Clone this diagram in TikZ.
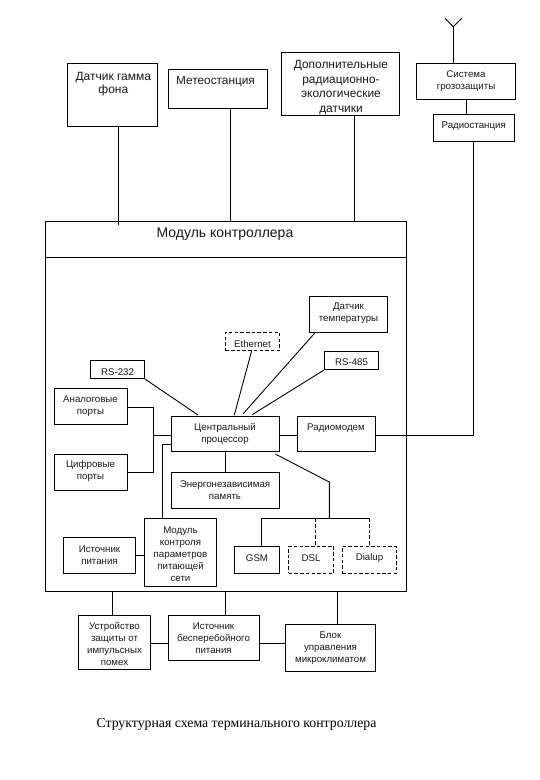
\documentclass[tikz,border=0pt]{standalone}
\usepackage{fontspec}
\setmainfont{Liberation Sans}
\newfontfamily\capfont{Liberation Serif}
\tikzset{
  box/.style={draw=black,line width=0.9pt,fill=white,inner sep=0pt},
  dbox/.style={box,dash pattern=on 3.5pt off 2.2pt},
  txt/.style={align=center,inner sep=0pt,text=black!90,yshift=-0.9pt},
  wire/.style={draw=black,line width=0.9pt},
  dwire/.style={wire,dash pattern=on 3.5pt off 2.2pt},
}
% #1 style, #2 name, #3-#6 x1,y1,x2,y2
\newcommand{\bx}[6]{%
  \pgfmathsetlengthmacro{\bw}{#5-#3}\pgfmathsetlengthmacro{\bh}{#6-#4}%
  \node[#1,minimum width=\bw,minimum height=\bh] (#2) at ({(#3+#5)/2},{(#4+#6)/2}) {};}
% #1 font size, #2 name, #3 x, #4 y, #5 text
\newcommand{\tx}[5]{\node[txt,font=\fontsize{#1}{#1}\selectfont] (#2) at (#3,#4) {#5};}
\begin{document}
\begin{tikzpicture}[x=1pt,y=-1pt]
\useasboundingbox (0,0) rectangle (540,780);
\fill[white] (0,0) rectangle (540,780);
% outer
\bx{box}{outer}{45.5}{221.5}{406}{591}
\bx{box}{head}{45.5}{221.5}{406}{257.5}
% top
\bx{box}{gamma}{67.5}{63.3}{157.7}{126.3}
\bx{box}{meteo}{168.7}{69.5}{267.5}{108.5}
\bx{box}{extra}{281.7}{52.3}{399.7}{115.3}
\bx{box}{lightning}{416.3}{63.3}{515.7}{99.3}
\bx{box}{radio}{433.3}{114.3}{514.5}{141.3}
% inside
\bx{box}{temp}{309.3}{296.3}{387.7}{332.3}
\bx{dbox}{eth}{225.3}{332.3}{279.7}{350.3}
\bx{box}{rsf}{324.3}{351.3}{378.7}{369.7}
\bx{box}{rst}{90.3}{360.3}{144.7}{378.7}
\bx{box}{analog}{54.7}{388.3}{127}{424.3}
\bx{box}{cpu}{171.3}{416.3}{279.7}{451.3}
\bx{box}{modem}{297.3}{416.3}{375.7}{451.3}
\bx{box}{digital}{54.7}{454.3}{127}{490.3}
\bx{box}{mem}{171.3}{472.3}{279.7}{508.3}
\bx{box}{ctrl}{144.3}{518.3}{216.7}{586.3}
\bx{box}{psu}{63.3}{537.3}{135.7}{573.3}
\bx{box}{gsm}{234.7}{546.3}{279.7}{573.3}
\bx{dbox}{dsl}{288.7}{546.3}{333.7}{573.3}
\bx{dbox}{dial}{342.3}{546.3}{396.3}{573.3}
% bottom
\bx{box}{prot}{78.3}{615.3}{150.7}{669.3}
\bx{box}{ups}{168.3}{615.3}{259}{660.3}
\bx{box}{clim}{285.7}{624.3}{375.3}{671.3}
% texts
\tx{12}{tgamma}{113.3}{83}{Датчик гамма\\[1pt]фона}
\tx{11.8}{tmeteo}{215.5}{81}{Метеостанция}
\tx{11.9}{textra}{341}{86.5}{Дополнительные\\[2.6pt]радиационно-\\[2.6pt]экологические\\[2.6pt]датчики}
\tx{9.7}{tlight}{466}{80}{Система\\[2.3pt]грозозащиты}
\tx{9.7}{tradio}{473.7}{125}{Радиостанция}
\tx{14}{thead}{225}{233}{Модуль контроллера}
\tx{9.7}{ttemp}{348.5}{312}{Датчик\\[2.3pt]температуры}
\tx{9.7}{teth}{252.5}{343}{Ethernet}
\tx{9.7}{trsf}{351.5}{361.7}{RS-485}
\tx{9.7}{trst}{117.5}{371}{RS-232}
\tx{9.7}{tanalog}{90.5}{405}{Аналоговые\\[2.3pt]порты}
\tx{9.7}{tcpu}{225}{433}{Центральный\\[2.3pt]процессор}
\tx{9.7}{tmodem}{336}{427}{Радиомодем}
\tx{9.7}{tdigital}{90.5}{470.5}{Цифровые\\[2.3pt]порты}
\tx{9.7}{tmem}{225}{489}{Энергонезависимая\\[2.3pt]память}
\tx{9.7}{tctrl}{180.5}{553}{Модуль\\[2.3pt]контроля\\[2.3pt]параметров\\[2.3pt]питающей\\[2.3pt]сети}
\tx{9.7}{tpsu}{99.5}{554}{Источник\\[2.3pt]питания}
\tx{9.7}{tgsm}{257}{557}{GSM}
\tx{9.7}{tdsl}{311}{557}{DSL}
\tx{9.7}{tdial}{369.5}{557}{Dialup}
\tx{9.7}{tprot}{114.5}{643}{Устройство\\[2.3pt]защиты от\\[2.3pt]импульсных\\[2.3pt]помех}
\tx{9.7}{tups}{213.5}{637}{Источник\\[2.3pt]бесперебойного\\[2.3pt]питания}
\tx{9.7}{tclim}{330.5}{647}{Блок\\[2.3pt]управления\\[2.3pt]микроклиматом}
\node[inner sep=0pt,font=\capfont\fontsize{13.8}{13.8}\selectfont] (caption) at (236.5,724) {Структурная схема терминального контроллера};
% helpers
\coordinate (antTop) at (453.3,26.7);
\coordinate (antL) at (445,18.3);
\coordinate (antR) at (461.7,18.3);
\coordinate (junc) at (153.3,435.3);
\coordinate (bend) at (329.3,482);
\coordinate (split) at (329.3,518.3);
% connectors
\draw[wire] (gamma.south -| 118.7,0) -- (118.7,224.5);
\draw[wire] (meteo.south -| 230.5,0) -- (head.north -| 230.5,0);
\draw[wire] (extra.south -| 354,0) -- (head.north -| 354,0);
\draw[wire] (antL) -- (antTop) -- (antR);
\draw[wire] (antTop) -- (antTop |- lightning.north);
\draw[wire] (lightning.south -| 466.7,0) -- (radio.north -| 466.7,0);
\draw[wire] (radio.south -| 473.3,0) -- (473.3,435.3) -- (modem.east |- 0,435.3);
\draw[wire] (cpu.east |- 0,435.3) -- (modem.west |- 0,435.3);
\draw[wire] (rst.south east) -- (198,415);
\draw[wire] (eth.south -| 251.7,0) -- (234.3,415);
\draw[wire] (temp.south -| 315,0) -- (243.3,413.6);
\draw[wire] (rsf.south west) -- (252.3,414.6);
\draw[wire] (analog.east |- 0,407) -- (153.3,407) -- (153.3,472) -- (digital.east |- 0,472);
\draw[wire] (junc) -- (junc -| cpu.west);
\draw[wire] (ctrl.north -| 162.3,0) -- (162.3,444.7) -- (cpu.west |- 0,444.7);
\draw[wire] (cpu.south -| 225.7,0) -- (mem.north -| 225.7,0);
\draw[wire] (275.3,454) -- (bend) -- (split);
\draw[wire] (gsm.north -| 261.7,0) -- (261.7,518.3) -- (369.7,518.3);
\draw[dwire] (315.7,518.3) -- (dsl.north -| 315.7,0);
\draw[dwire] (369.7,518.3) -- (dial.north -| 369.7,0);
\draw[wire] (psu.east) -- (psu.east -| ctrl.west);
\draw[wire] (outer.south -| 112.3,0) -- (prot.north -| 112.3,0);
\draw[wire] (outer.south -| 225.7,0) -- (ups.north -| 225.7,0);
\draw[wire] (outer.south -| 337.3,0) -- (clim.north -| 337.3,0);
\draw[wire] (prot.east |- 0,643.3) -- (ups.west |- 0,643.3);
\draw[wire] (ups.east |- 0,643.3) -- (clim.west |- 0,643.3);
\end{tikzpicture}
\end{document}
